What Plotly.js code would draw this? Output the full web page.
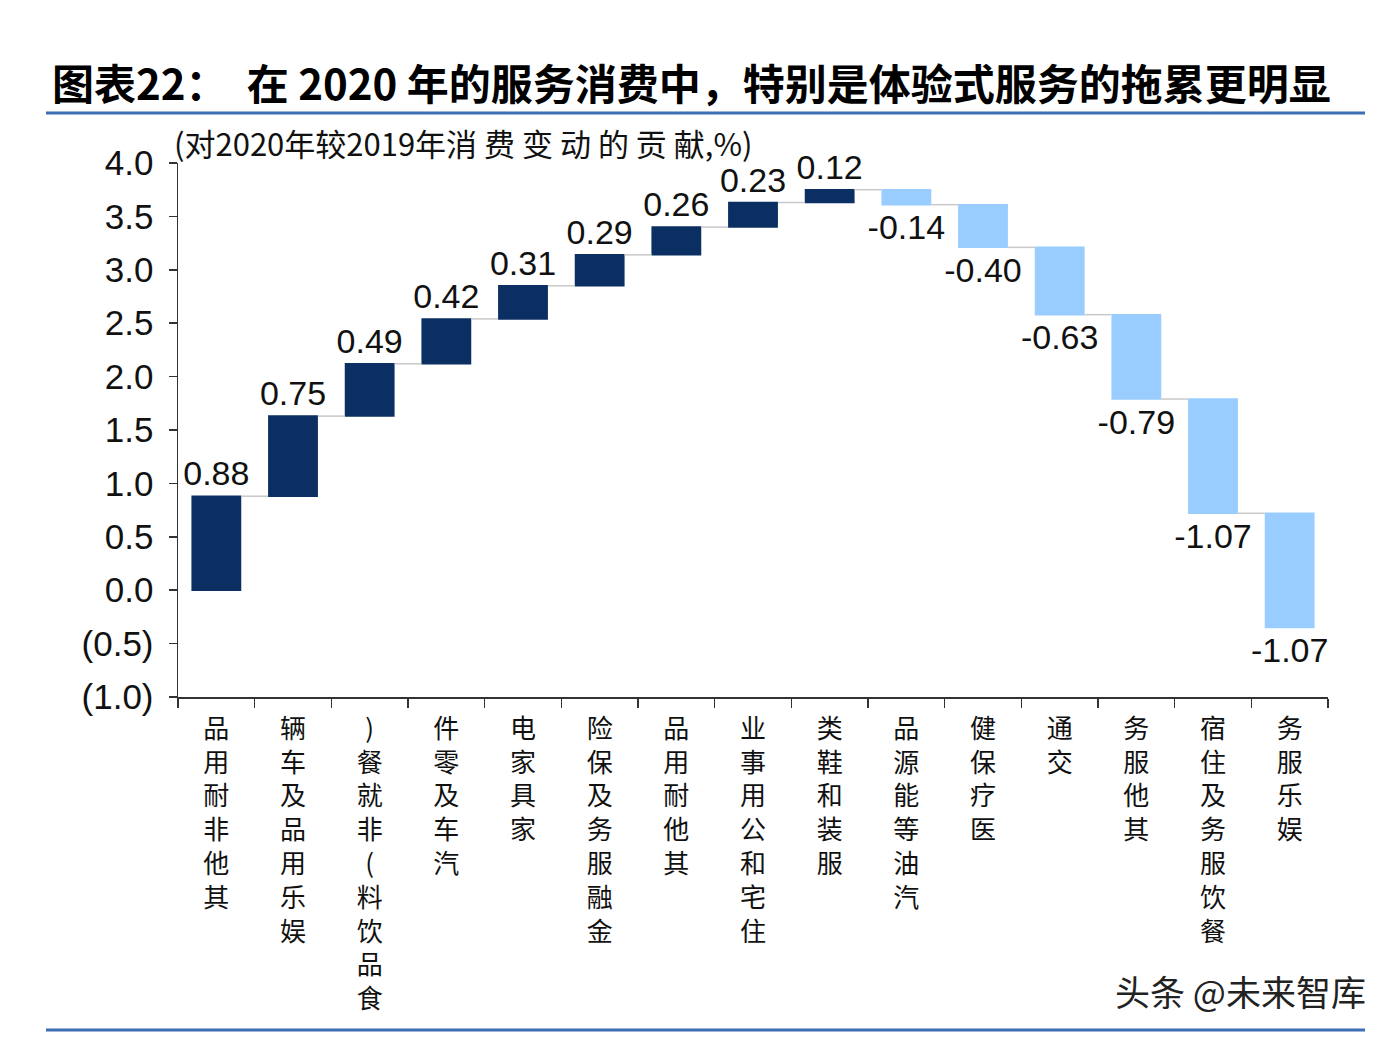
<!DOCTYPE html>
<html>
<head>
<meta charset="utf-8">
<script src="https://cdn.plot.ly/plotly-3.0.1.min.js"></script>
<style>html,body{margin:0;padding:0;background:#fff;}#chart{width:1398px;height:1038px;}</style>
</head>
<body>
<div id="chart"></div>
<script>
const categories = ['其他非耐用品','娱乐用品及车辆','食品饮料(非就餐)','汽车及零件','家具家电','金融服务及保险','其他耐用品','住宅和公用事业','服装和鞋类','汽油等能源品','医疗保健','交通','其他服务','餐饮服务及住宿','娱乐服务'];
const contributions = [0.88, 0.75, 0.49, 0.42, 0.31, 0.29, 0.26, 0.23, 0.12, -0.14, -0.40, -0.63, -0.79, -1.07, -1.07];
const yTickVals = [-1.0, -0.5, 0.0, 0.5, 1.0, 1.5, 2.0, 2.5, 3.0, 3.5, 4.0];
const yTickText = ['(1.0)', '(0.5)', '0.0', '0.5', '1.0', '1.5', '2.0', '2.5', '3.0', '3.5', '4.0'];
const titleText = '图表22：  在 2020 年的服务消费中，特别是体验式服务的拖累更明显';
const subtitleText = '(对2020年较2019年消 费 变 动 的 贡 献,%)';
const watermarkText = '头条 @未来智库';

const W = 1398, H = 1038;
const L = 178, R = 70, T = 163, B = 341;
const pw = W - L - R, ph = H - T - B;
const px = x => (x - L) / pw;
const py = y => (H - B - y) / ph;

const stacked = s => Array.from(s).reverse().join('<br>');

const CJK = '"Noto Sans CJK SC", "Noto Sans", sans-serif';
const NUM = '"Liberation Sans", Arial, sans-serif';

const trace = {
  type: 'waterfall',
  x: categories,
  y: contributions,
  measure: contributions.map(() => 'relative'),
  text: contributions.map(v => v.toFixed(2)),
  textinfo: 'text',
  textposition: 'outside',
  constraintext: 'none',
  cliponaxis: false,
  textfont: {family: NUM, size: 34, color: '#111'},
  increasing: {marker: {color: '#0b2e63'}},
  decreasing: {marker: {color: '#99ccff'}},
  connector: {line: {color: '#c8c8c8', width: 1.5}},
  hoverinfo: 'skip'
};

const layout = {
  width: W, height: H,
  margin: {l: L, r: R, t: T, b: B},
  paper_bgcolor: '#ffffff',
  plot_bgcolor: '#ffffff',
  showlegend: false,
  waterfallgap: 0.35,
  title: {
    text: '<b>' + titleText + '</b>',
    x: 52 / W, xanchor: 'left', xref: 'container',
    y: 1 - 85 / H, yanchor: 'middle', yref: 'container',
    font: {family: CJK, size: 42, color: '#000'}
  },
  xaxis: {
    type: 'category',
    tickmode: 'array',
    tickvals: categories,
    ticktext: categories.map(stacked),
    tickson: 'boundaries',
    ticks: 'outside', ticklen: 9, tickwidth: 1.5, tickcolor: '#333',
    ticklabelstandoff: 8,
    showline: true, linecolor: '#333', linewidth: 1.5,
    showgrid: false, zeroline: false,
    tickangle: 0,
    tickfont: {family: CJK, size: 26, color: '#111'},
    fixedrange: true
  },
  yaxis: {
    range: [-1, 4],
    tickmode: 'array',
    tickvals: yTickVals,
    ticktext: yTickText,
    ticks: 'outside', ticklen: 8, tickwidth: 1.5, tickcolor: '#333',
    ticklabelstandoff: 8,
    showline: true, linecolor: '#333', linewidth: 1.5,
    showgrid: false, zeroline: false,
    tickfont: {family: NUM, size: 35, color: '#111'},
    fixedrange: true
  },
  shapes: [
    {type: 'line', xref: 'paper', yref: 'paper', x0: px(46), x1: px(1365), y0: py(113), y1: py(113), line: {color: '#3d6db5', width: 3}},
    {type: 'line', xref: 'paper', yref: 'paper', x0: px(46), x1: px(1365), y0: py(1030), y1: py(1030), line: {color: '#3d6db5', width: 3}}
  ],
  annotations: [
    {text: subtitleText, xref: 'paper', yref: 'paper', x: px(172), y: py(142), xanchor: 'left', yanchor: 'middle', showarrow: false, font: {family: CJK, size: 31, color: '#111'}},
    {text: watermarkText, xref: 'paper', yref: 'paper', x: px(1368), y: py(990), xanchor: 'right', yanchor: 'middle', showarrow: false, font: {family: CJK, size: 35, color: '#222'}}
  ]
};

Plotly.newPlot('chart', [trace], layout, {displayModeBar: false, staticPlot: true});
</script>
</body>
</html>
